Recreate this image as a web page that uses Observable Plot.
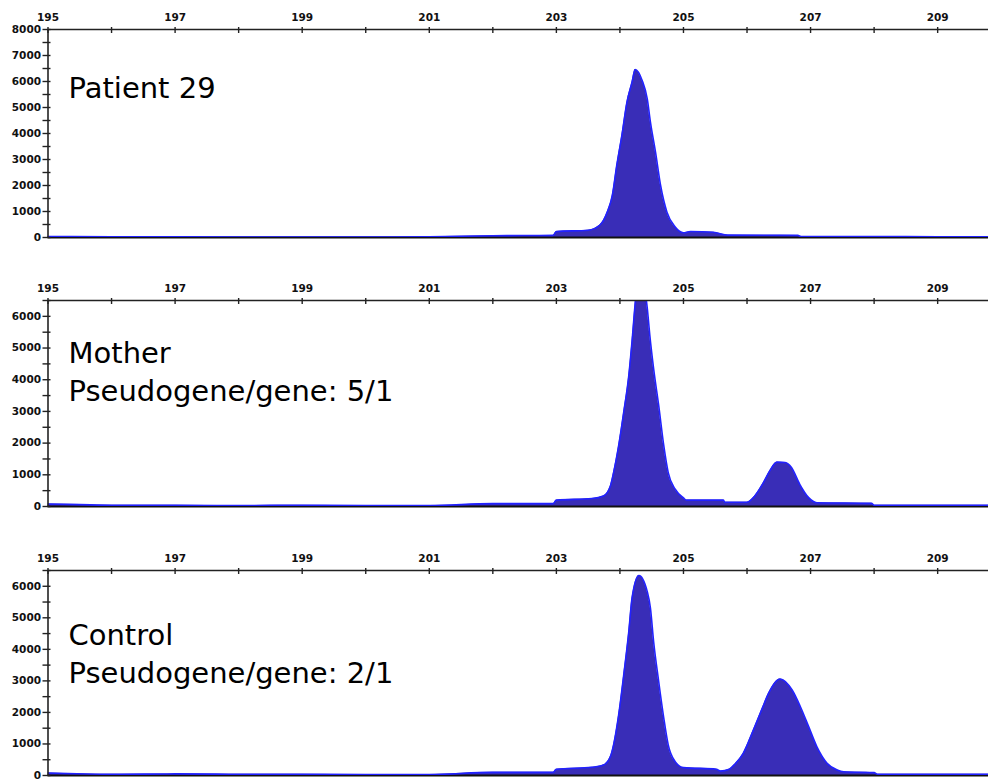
<!DOCTYPE html>
<html>
<head>
<meta charset="utf-8">
<script src="https://cdn.jsdelivr.net/npm/d3@7"></script>
<script src="https://cdn.jsdelivr.net/npm/@observablehq/plot@0.6"></script>
<style>
  body { margin: 0; background: #fff; }
  #wrap { position: relative; width: 988px; height: 779px; overflow: hidden; }
  #wrap svg { position: absolute; left: 0; }
</style>
</head>
<body>
<div id="wrap"></div>
<script>
// ---- Data ----
const sizeDomain = [195, 209.8];
const sizeTicks = [195,196,197,198,199,200,201,202,203,204,205,206,207,208,209];
const sizeLabels = [195,197,199,201,203,205,207,209];

const patientLabel = "Patient 29";
const motherLabel = "Mother\nPseudogene/gene: 5/1";
const controlLabel = "Control\nPseudogene/gene: 2/1";

const patientYLabels = [0,1000,2000,3000,4000,5000,6000,7000,8000];
const patientYTicks = [0,500,1000,1500,2000,2500,3000,3500,4000,4500,5000,5500,6000,6500,7000,7500,8000];
const familyYLabels = [0,1000,2000,3000,4000,5000,6000];
const familyYTicks = [0,500,1000,1500,2000,2500,3000,3500,4000,4500,5000,5500,6000,6500];

const patientSize = [195.0,196.0,197.0,198.0,199.0,200.0,201.0,202.0,202.95,203.0,203.5,203.69,203.80,203.88,203.95,204.03,204.11,204.19,204.24,204.35,204.43,204.48,204.56,204.64,204.74,204.87,205.0,205.11,205.47,205.7,206.8,206.85,208.0,209.0,209.8];
const patientRfu  = [40,30,30,20,20,20,30,70,80,230,280,490,975,1615,2770,3920,5200,5970,6460,6040,5330,4440,3280,2000,975,400,180,230,200,90,80,40,40,30,30];

const motherSize = [195.0,195.5,196.0,197.0,198.0,199.0,200.0,201.0,202.0,202.95,203.0,203.56,203.74,203.85,203.90,203.98,204.06,204.14,204.19,204.25,204.33,204.41,204.43,204.47,204.53,204.61,204.69,204.76,204.87,205.0,205.05,205.63,205.65,206.0,206.09,206.26,206.36,206.47,206.60,206.70,206.83,206.97,207.10,207.96,208.0,209.8];
const motherRfu  = [80,60,40,40,30,40,30,30,90,90,200,250,330,650,1070,1920,2980,4140,5200,6600,7400,6600,6260,5410,4350,3190,1920,1070,545,270,200,200,135,135,260,760,1130,1400,1390,1230,700,280,120,100,40,40];

const controlSize = [195.0,196.0,197.0,198.0,199.0,200.0,201.0,202.0,202.95,203.0,203.56,203.74,203.85,203.90,203.98,204.06,204.14,204.19,204.30,204.43,204.48,204.53,204.61,204.69,204.76,204.87,205.0,205.52,205.58,205.72,205.79,205.94,206.10,206.24,206.34,206.52,206.71,206.84,206.97,207.10,207.26,207.42,207.52,208.0,208.05,209.8];
const controlRfu  = [80,40,50,40,40,30,30,100,100,200,260,330,600,970,1920,3190,4570,5620,6340,5830,5310,4250,2980,1820,970,440,250,200,140,200,320,700,1440,2130,2610,3060,2710,2180,1550,910,390,175,120,90,40,40];

// ---- Drawing ----
const fillColor = "#392db7";
const strokeColor = "#2222ff";
const axisColor = "#222";

function panel({sizes, rfu, yMax, yLabels, yTicks, label, top, height, marginTop, marginBottom, textDy}) {
  const rows = sizes.map((s, i) => ({size: s, rfu: rfu[i]}));
  const chart = Plot.plot({
    width: 988,
    height,
    marginLeft: 47.5,
    marginRight: 0,
    marginTop,
    marginBottom,
    style: {fontFamily: "DejaVu Sans", fontSize: "10.5px", fontWeight: "bold", color: "#111", background: "transparent", overflow: "visible"},
    x: {domain: sizeDomain},
    y: {domain: [0, yMax]},
    marks: [
      Plot.areaY(rows, {x: "size", y: "rfu", fill: fillColor, curve: "monotone-x", clip: true}),
      Plot.ruleY([0], {stroke: "#111", strokeWidth: 2.2}),
      Plot.lineY(rows, {x: "size", y: "rfu", stroke: strokeColor, strokeWidth: 1.6, curve: "monotone-x", clip: true}),
      Plot.ruleY([yMax], {stroke: axisColor, strokeWidth: 1.6}),
      Plot.ruleX([sizeDomain[0]], {stroke: axisColor, strokeWidth: 1.6}),
      Plot.axisX(sizeTicks, {anchor: "top", label: null, tickSize: 6, dy: 3, tickFormat: () => "", stroke: axisColor, strokeWidth: 1.4}),
      Plot.axisX(sizeLabels, {anchor: "top", label: null, tickSize: 0, tickPadding: 9, tickFormat: d => String(d), fill: "#111"}),
      Plot.axisY(yTicks, {anchor: "left", label: null, tickSize: 8, dx: 3, tickFormat: () => "", stroke: axisColor, strokeWidth: 1.4}),
      Plot.axisY(yLabels, {anchor: "left", label: null, tickSize: 0, tickPadding: 7, tickFormat: d => String(d), fill: "#111"}),
      Plot.text([label], {frameAnchor: "top-left", text: d => d, dx: 20.5, dy: textDy, lineAnchor: "top", textAnchor: "start", fontSize: 29, fontWeight: "normal", lineHeight: 1.31, fill: "#000"})
    ]
  });
  chart.style.top = top + "px";
  document.getElementById("wrap").appendChild(chart);
}

panel({sizes: patientSize, rfu: patientRfu, yMax: 8000, yLabels: patientYLabels, yTicks: patientYTicks,
       label: patientLabel, top: 0, height: 243, marginTop: 29, marginBottom: 6, textDy: 42});
panel({sizes: motherSize, rfu: motherRfu, yMax: 6500, yLabels: familyYLabels, yTicks: familyYTicks,
       label: motherLabel, top: 270, height: 241, marginTop: 30, marginBottom: 5, textDy: 36});
panel({sizes: controlSize, rfu: controlRfu, yMax: 6500, yLabels: familyYLabels, yTicks: familyYTicks,
       label: controlLabel, top: 540, height: 239, marginTop: 30, marginBottom: 4, textDy: 48});
</script>
</body>
</html>
